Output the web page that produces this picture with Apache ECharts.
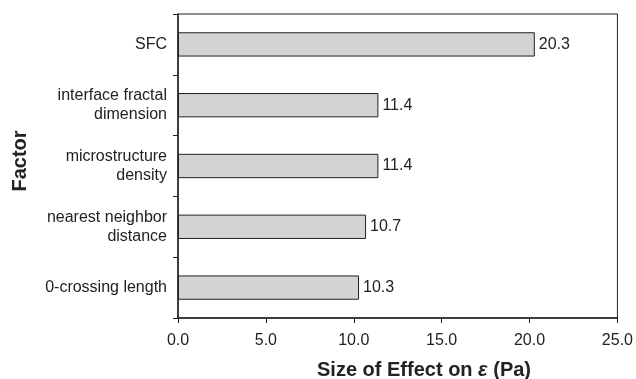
<!DOCTYPE html>
<html>
<head>
<meta charset="utf-8">
<script src="https://cdn.jsdelivr.net/npm/echarts@6/dist/echarts.min.js"></script>
<style>html,body{margin:0;padding:0;background:#fff;}#c{width:636px;height:379px;}</style>
</head>
<body>
<div id="c"></div>
<script>
const categories = ["SFC", "interface fractal\ndimension", "microstructure\ndensity", "nearest neighbor\ndistance", "0-crossing length"];
const values = [20.3, 11.4, 11.4, 10.7, 10.3];
const xTicks = [0, 5, 10, 15, 20, 25];

const chart = echarts.init(document.getElementById('c'));
const font = '"Liberation Sans", Arial, Helvetica, sans-serif';
chart.setOption({
  animation: false,
  grid: { left: 178, top: 14, width: 441, height: 304, show: true, borderColor: '#222', borderWidth: 1, backgroundColor: 'transparent' },
  xAxis: {
    type: 'value', min: xTicks[0], max: xTicks[xTicks.length - 1], interval: 5,
    axisLine: { show: true, lineStyle: { color: '#222', width: 1.5 } },
    axisTick: { show: true, length: 5, lineStyle: { color: '#222' } },
    splitLine: { show: false },
    axisLabel: { formatter: v => v.toFixed(1), color: '#222', fontSize: 16, fontFamily: font, margin: 15 }
  },
  yAxis: {
    type: 'category', data: categories, inverse: true,
    axisLine: { show: true, lineStyle: { color: '#222', width: 1.5 } },
    axisTick: { show: true, length: 5, alignWithLabel: false, lineStyle: { color: '#222' } },
    axisLabel: { color: '#222', fontSize: 16, fontFamily: font, margin: 11, lineHeight: 19, align: 'right' }
  },
  graphic: [{
    type: 'text', left: 317, top: 360,
    style: {
      rich: {
        b: { fontSize: 20, fontWeight: 'bold', fontFamily: font, fill: '#222' },
        e: { fontSize: 20, fontWeight: 'bold', fontStyle: 'italic', fontFamily: font, fill: '#222' }
      },
      text: '{b|Size of Effect on }{e|ε}{b| (Pa)}'
    }
  }, {
    type: 'text', x: 20, y: 161, rotation: Math.PI / 2,
    style: { text: 'Factor', fontSize: 20, fontWeight: 'bold', fontFamily: font, fill: '#222', align: 'center', verticalAlign: 'middle' }
  }],
  series: [{
    type: 'bar', data: values, barWidth: '40%',
    itemStyle: { color: '#d3d3d3', borderColor: '#222', borderWidth: 1 },
    label: { show: true, position: 'right', distance: 4, formatter: p => p.value.toFixed(1), color: '#222', fontSize: 16, fontFamily: font }
  }]
});
</script>
</body>
</html>
